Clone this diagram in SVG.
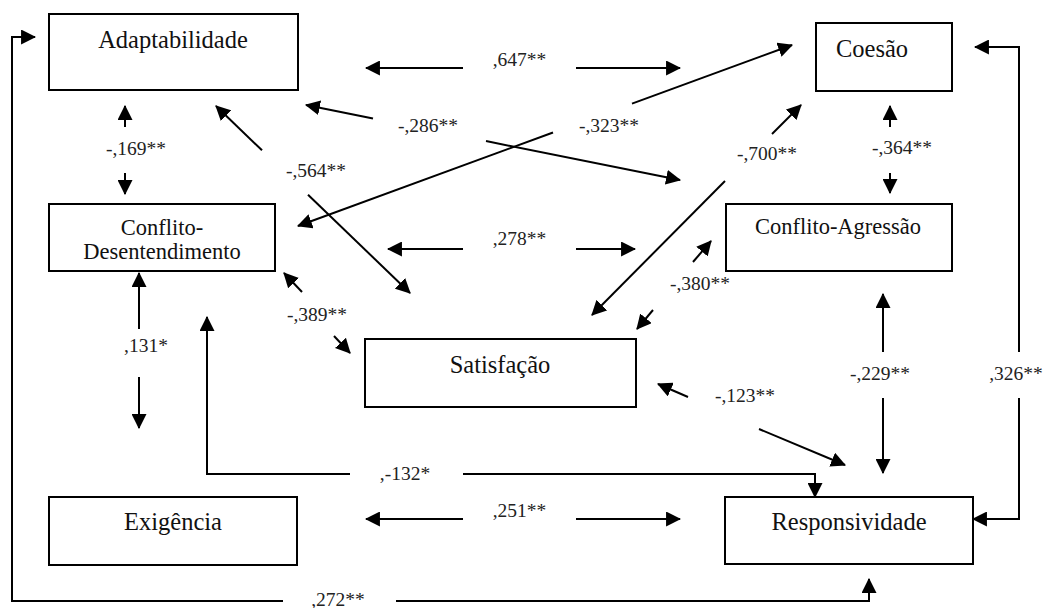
<svg xmlns="http://www.w3.org/2000/svg" width="1044" height="608" viewBox="0 0 1044 608">
<style>
.box{fill:#fff;stroke:#000;stroke-width:2}
text{font-family:'Liberation Serif','Times New Roman',Times,'DejaVu Serif',serif}
.nt{font-size:24.5px;fill:#111;text-anchor:middle}
.nc{font-size:22.5px}
.lb{font-size:19.5px;fill:#222;text-anchor:middle}
.c{fill:none;stroke:#000;stroke-width:2;marker-end:url(#ah)}
</style>
<defs>
<marker id="ah" markerUnits="userSpaceOnUse" markerWidth="15" markerHeight="15" viewBox="0 0 14 14" refX="13" refY="7" orient="auto">
<path d="M0,0 L14,7 L0,14 z" fill="#000"/>
</marker>
</defs>
<rect width="1044" height="608" fill="#fff"/>
<g id="connectors">
<path class="c" d="M283,601 L12,601 L12,37 L35,37"/>
<path class="c" d="M396,601 L869,601 L869,579"/>
<path class="c" d="M350,474 L207,474 L207,317"/>
<path class="c" d="M463,474 L815,474 L815,497"/>
<path class="c" d="M463,519 L366,519"/>
<path class="c" d="M576,519 L680,519"/>
<path class="c" d="M1019,352 L1019,47 L975,47"/>
<path class="c" d="M1019,398 L1019,519 L973,519"/>
<path class="c" d="M883,352 L883,294"/>
<path class="c" d="M883,398 L883,473"/>
<path class="c" d="M688,397 L658,384"/>
<path class="c" d="M759,429 L845,465"/>
<path class="c" d="M890,127 L890,106"/>
<path class="c" d="M890,173 L890,193"/>
<path class="c" d="M125,127 L125,106"/>
<path class="c" d="M125,173 L125,194"/>
<path class="c" d="M139,329 L139,273"/>
<path class="c" d="M139,377 L139,428"/>
<path class="c" d="M463,68 L366,68"/>
<path class="c" d="M576,68 L680,68"/>
<path class="c" d="M463,249 L388,249"/>
<path class="c" d="M576,249 L635,249"/>
<path class="c" d="M373,118.4 L306,105"/>
<path class="c" d="M486,141.1 L680,180"/>
<path class="c" d="M632,103.6 L792,45"/>
<path class="c" d="M553,132.5 L298,226"/>
<path class="c" d="M262,150.3 L216,106"/>
<path class="c" d="M308,194.7 L410,293"/>
<path class="c" d="M772,134 L801,105"/>
<path class="c" d="M725,181 L592,315"/>
<path class="c" d="M693,262 L711,241"/>
<path class="c" d="M653,310 L637,329"/>
<path class="c" d="M302,292 L284,273"/>
<path class="c" d="M334,336 L350,353"/>
</g>
<g id="labels">
<text class="lb" x="519.5" y="66">,647**</text>
<text class="lb" x="428" y="132">-,286**</text>
<text class="lb" x="609" y="132">-,323**</text>
<text class="lb" x="136" y="155">-,169**</text>
<text class="lb" x="316" y="177">-,564**</text>
<text class="lb" x="767" y="160">-,700**</text>
<text class="lb" x="902" y="154">-,364**</text>
<text class="lb" x="519.5" y="245">,278**</text>
<text class="lb" x="700" y="290">-,380**</text>
<text class="lb" x="317" y="321">-,389**</text>
<text class="lb" x="146" y="352">,131*</text>
<text class="lb" x="880" y="380">-,229**</text>
<text class="lb" x="1016" y="380">,326**</text>
<text class="lb" x="745" y="402">-,123**</text>
<text class="lb" x="405" y="480">,-132*</text>
<text class="lb" x="519.5" y="517">,251**</text>
<text class="lb" x="338" y="606">,272**</text>
</g>
<g id="n-adaptabilidade"><rect class="box" x="49" y="14" width="249" height="76"/><text class="nt" x="173" y="48">Adaptabilidade</text></g>
<g id="n-coesao"><rect class="box" x="816" y="23" width="136" height="68"/><text class="nt" x="872" y="57">Coesão</text></g>
<g id="n-conflito-desentendimento"><rect class="box" x="49" y="204" width="226" height="67"/><text class="nt nc" x="162" y="235">Conflito-</text><text class="nt nc" x="162" y="259">Desentendimento</text></g>
<g id="n-conflito-agressao"><rect class="box" x="726" y="204" width="226" height="67"/><text class="nt nc" x="838" y="234">Conflito-Agressão</text></g>
<g id="n-satisfacao"><rect class="box" x="365" y="339" width="271" height="68"/><text class="nt" x="500" y="373">Satisfação</text></g>
<g id="n-exigencia"><rect class="box" x="49" y="497" width="248" height="68"/><text class="nt" x="173" y="530">Exigência</text></g>
<g id="n-responsividade"><rect class="box" x="725" y="497" width="248" height="67"/><text class="nt" x="849" y="530">Responsividade</text></g>
</svg>
